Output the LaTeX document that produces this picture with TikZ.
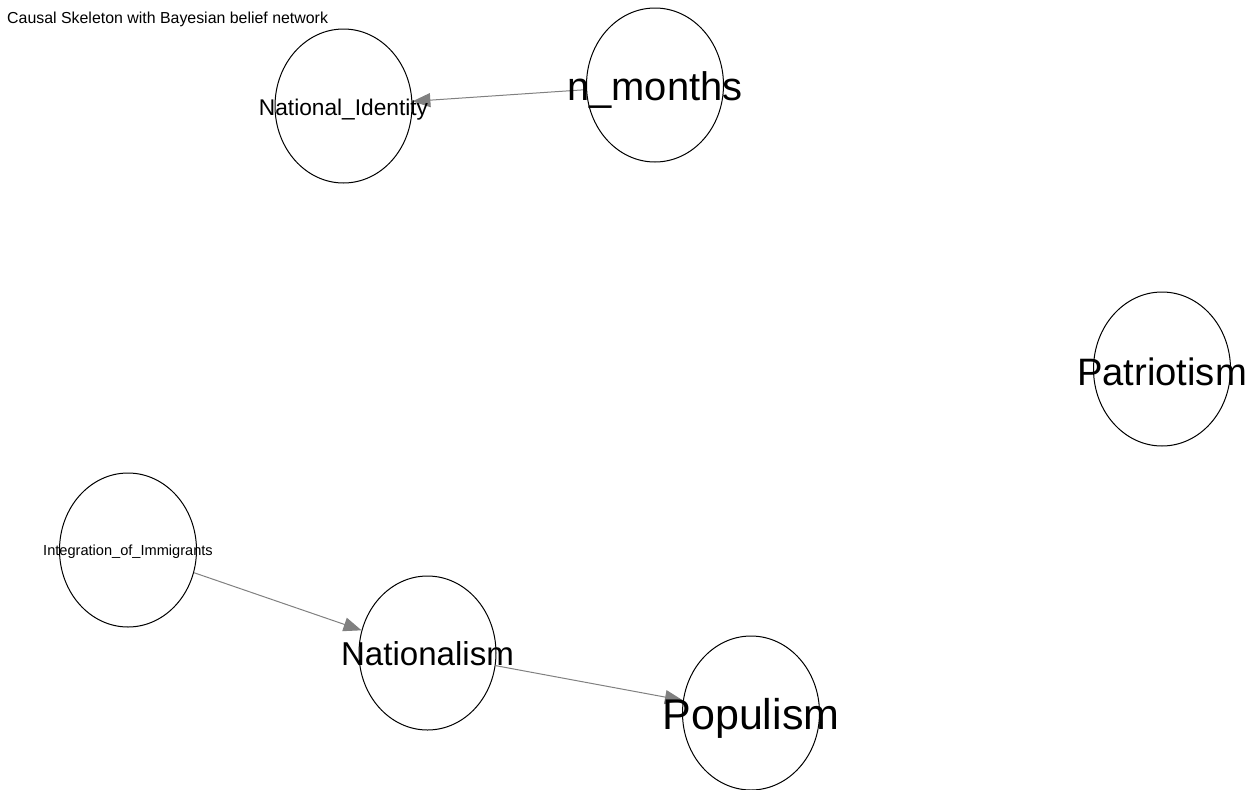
\documentclass[tikz,border=0pt]{standalone}
\usepackage{fontspec}
\setmainfont{Liberation Sans}
\usepackage{xcolor}
\usepackage{tikz}
\usetikzlibrary{shapes.geometric}
\usetikzlibrary{arrows.meta}

\tikzset{
    var/.style = {ellipse, draw = black, line width = 1pt, fill = white,
        minimum width = 137pt, minimum height = 154pt, inner sep = 0pt},
    link/.style = {draw = gray, line width = 1pt,
        -{Triangle[length = 18pt, width = 14pt, fill = gray]}},
    lbl/.style = {anchor = base, inner sep = 0pt}
}
\newcommand{\fsz}[1]{\fontsize{#1}{#1}\selectfont}

\begin{document}
\begin{tikzpicture}[x = 1pt, y = -1pt]
        \useasboundingbox (0, 0) rectangle (1259, 790);

        \node[anchor = base west, inner sep = 0pt, font = \fsz{15.9}] (title) at (7, 23) {Causal Skeleton with Bayesian belief network};

        \node[var] (natid) at (343.5, 106) {};
        \node[var] (months) at (655, 85) {};
        \node[var] (patr) at (1162, 369) {};
        \node[var] (integ) at (128, 550) {};
        \node[var] (nat) at (427.5, 653) {};
        \node[var] (pop) at (751, 713) {};

        \draw[link] (months) -- (natid);
        \draw[link] (integ) -- (nat);
        \draw[link] (nat) -- (pop);

        \node[lbl, yshift = -9pt, font = \fsz{22.7}] at (natid) {National\_Identity};
        \node[lbl, yshift = -15pt, font = \fsz{39.9}] at (months) {n\_months};
        \node[lbl, yshift = -16pt, font = \fsz{38.2}] at (patr) {Patriotism};
        \node[lbl, yshift = -5.5pt, font = \fsz{14.6}] at (integ) {Integration\_of\_Immigrants};
        \node[lbl, yshift = -12pt, font = \fsz{33.1}] at (nat) {Nationalism};
        \node[lbl, yshift = -16pt, font = \fsz{43}] at (pop) {Populism};
    \end{tikzpicture}
\end{document}
